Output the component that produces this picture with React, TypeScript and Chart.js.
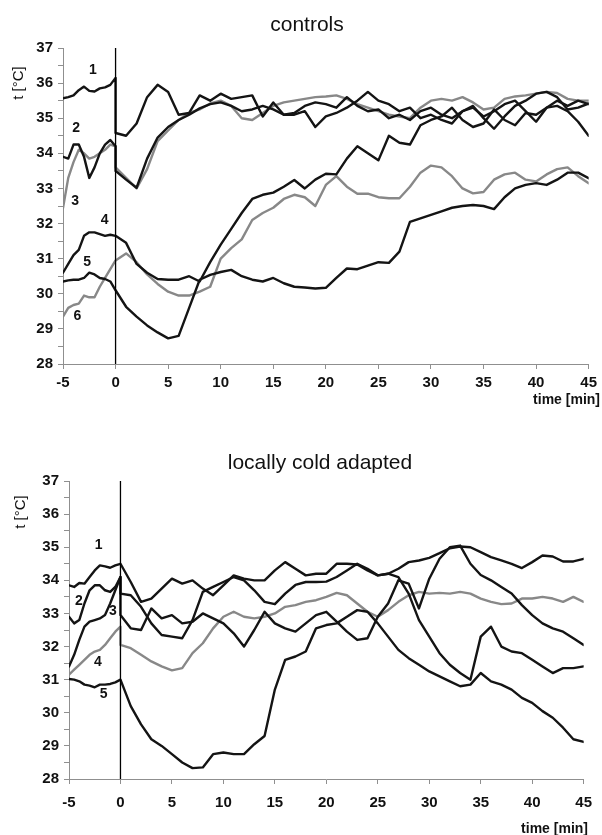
import React, { useEffect, useRef } from 'react';
import { Chart, registerables } from 'chart.js';

Chart.register(...registerables);

// Shared time grid [min]: half-minute steps before the stimulus, a repeated 0
// for the step at stimulus onset, then one-minute steps.
const TIME = [
  -5, -4.5, -4, -3.5, -3, -2.5, -2, -1.5, -1, -0.5, 0,
  0, 1, 2, 3, 4, 5, 6, 7, 8, 9, 10, 11, 12, 13, 14, 15, 16, 17, 18, 19, 20,
  21, 22, 23, 24, 25, 26, 27, 28, 29, 30, 31, 32, 33, 34, 35, 36, 37, 38, 39, 40,
  41, 42, 43, 44, 45,
];

const X_TICKS = [-5, 0, 5, 10, 15, 20, 25, 30, 35, 40, 45];
const Y_TICKS = [28, 29, 30, 31, 32, 33, 34, 35, 36, 37];

// controls, subjects 1-6 [°C]
const ctrl1 = [
  35.57, 35.6, 35.65, 35.8, 35.9, 35.78, 35.76, 35.85, 35.88, 35.95, 36.15,
  34.58, 34.5, 34.85, 35.6, 35.95, 35.75, 35.1, 35.15, 35.65, 35.5, 35.7, 35.55, 35.6, 35.65, 35.05, 35.45,
  35.1, 35.1, 35.2, 34.75, 35.05, 35.15, 35.3, 35.5, 35.75, 35.5, 35.4, 35.2, 35.3, 35.0, 35.1,
  34.95, 34.85, 35.2, 35.35, 35.0, 34.7, 35.05, 35.35, 35.5, 35.7, 35.75, 35.6, 35.25, 35.3, 35.42,
];
const ctrl2 = [
  33.9, 33.85, 34.25, 34.25, 33.9, 33.3, 33.6, 34.0, 34.25, 34.38, 34.2,
  33.5, 33.25, 33.02, 33.85, 34.45, 34.75, 34.95, 35.1, 35.28, 35.4, 35.45, 35.35, 35.2, 35.25, 35.35, 35.25,
  35.1, 35.15, 35.35, 35.45, 35.4, 35.3, 35.6, 35.35, 35.2, 35.25, 35.0, 35.1, 34.95, 35.2, 35.3,
  35.1, 35.0, 35.2, 35.3, 35.05, 35.2, 35.4, 35.5, 35.2, 34.9, 35.3, 35.35, 35.2, 34.9, 34.5,
];
const ctrl3 = [
  32.44, 33.3, 33.75, 34.1, 34.0, 33.85, 33.9, 34.0, 34.1, 34.25, 34.2,
  33.6, 33.3, 33.0, 33.55, 34.35, 34.65, 34.95, 35.15, 35.25, 35.42, 35.5, 35.35, 35.0, 34.95, 35.15, 35.35,
  35.45, 35.5, 35.55, 35.6, 35.62, 35.65, 35.55, 35.4, 35.3, 35.2, 35.1, 35.05, 35.0, 35.3, 35.5,
  35.55, 35.5, 35.6, 35.45, 35.25, 35.3, 35.55, 35.62, 35.65, 35.7, 35.75, 35.72, 35.55, 35.5, 35.5,
];
const ctrl4 = [
  30.6, 30.85, 31.1, 31.25, 31.65, 31.75, 31.75, 31.7, 31.65, 31.68, 31.65,
  31.65, 31.45, 30.85, 30.6, 30.42, 30.4, 30.4, 30.5, 30.35, 30.9, 31.4, 31.85, 32.3, 32.7, 32.82, 32.88,
  33.05, 33.24, 33.0, 33.25, 33.42, 33.4, 33.85, 34.2, 34.0, 33.8, 34.5, 34.3, 34.25, 34.8, 34.95,
  35.05, 35.3, 34.95, 34.75, 34.85, 35.25, 34.95, 34.8, 35.15, 35.1, 35.3, 35.5, 35.35, 35.5, 35.4,
];
const ctrl5 = [
  30.35, 30.38, 30.4, 30.4, 30.45, 30.6, 30.55, 30.45, 30.42, 30.35, 30.1,
  30.1, 29.63, 29.35, 29.1, 28.9, 28.73, 28.8, 29.6, 30.4, 30.54, 30.62, 30.68, 30.5, 30.4, 30.35, 30.45,
  30.3, 30.2, 30.18, 30.15, 30.17, 30.45, 30.72, 30.7, 30.8, 30.9, 30.88, 31.2, 32.05, 32.15, 32.25,
  32.35, 32.45, 32.5, 32.53, 32.5, 32.41, 32.75, 33.0, 33.1, 33.15, 33.1, 33.25, 33.45, 33.45, 33.29,
];
const ctrl6 = [
  29.35, 29.6, 29.68, 29.72, 29.95, 29.9, 29.9, 30.2, 30.45, 30.7, 30.95,
  30.95, 31.15, 30.9, 30.55, 30.28, 30.06, 29.95, 29.95, 30.06, 30.2, 31.0, 31.3, 31.55, 32.1, 32.3, 32.45,
  32.7, 32.82, 32.75, 32.5, 33.1, 33.35, 33.05, 32.85, 32.85, 32.75, 32.72, 32.72, 33.05, 33.45, 33.65,
  33.6, 33.35, 33.0, 32.86, 32.9, 33.25, 33.4, 33.45, 33.25, 33.2, 33.4, 33.55, 33.6, 33.35, 33.15,
];

// locally cold adapted, subjects 1-5 [°C]
const adap1 = [
  33.85, 33.8, 33.92, 33.9, 34.1, 34.3, 34.45, 34.42, 34.38, 34.45, 34.5,
  34.5, 33.95, 33.35, 33.45, 33.75, 34.05, 33.9, 34.0, 33.75, 33.55, 33.85, 34.15, 34.05, 34.0, 34.0, 34.3,
  34.55, 34.35, 34.15, 34.2, 34.2, 34.5, 34.5, 34.48, 34.3, 34.15, 34.2, 34.35, 34.55, 34.6, 34.68,
  34.82, 34.97, 35.02, 35.0, 34.85, 34.7, 34.6, 34.5, 34.37, 34.55, 34.75, 34.72, 34.57, 34.57, 34.65,
];
const adap2 = [
  32.9, 32.7, 32.8, 33.3, 33.7, 33.85, 33.85, 33.7, 33.65, 33.8, 34.1,
  33.6, 33.55, 33.2, 32.7, 32.35, 32.3, 32.25, 32.8, 33.65, 33.8, 33.95, 34.1, 34.0, 33.7, 33.35, 33.28,
  33.6, 33.86, 33.95, 33.95, 33.96, 34.1, 34.3, 34.5, 34.35, 34.15, 34.2, 34.1, 33.6, 32.8, 32.3,
  31.8, 31.45, 31.2, 31.0, 32.3, 32.6, 32.0, 31.85, 31.8, 31.6, 31.4, 31.2, 31.35, 31.35, 31.4,
];
const adap3 = [
  31.4, 31.75, 32.2, 32.6, 32.75, 32.8, 32.85, 32.95, 33.3, 33.7, 34.1,
  32.95, 32.55, 32.5, 33.15, 32.85, 32.95, 32.7, 32.75, 33.0, 32.85, 32.7, 32.4, 32.0, 32.5, 33.05, 32.7,
  32.55, 32.45, 32.7, 32.95, 33.05, 32.75, 32.45, 32.2, 32.25, 32.9, 33.3, 34.0, 33.9, 33.15, 34.05,
  34.65, 35.0, 35.05, 34.5, 34.16, 34.0, 33.8, 33.6, 33.25, 32.95, 32.7, 32.55, 32.45, 32.25, 32.05,
];
const adap4 = [
  31.15, 31.3, 31.45, 31.6, 31.75, 31.85, 31.9, 32.05, 32.25, 32.45, 32.6,
  32.05, 31.95, 31.75, 31.55, 31.4, 31.28, 31.35, 31.8, 32.1, 32.55, 32.9, 33.05, 32.9, 32.85, 32.9, 33.0,
  33.2, 33.25, 33.35, 33.4, 33.5, 33.62, 33.55, 33.3, 33.05, 32.9, 33.1, 33.35, 33.55, 33.65, 33.6,
  33.62, 33.6, 33.65, 33.6, 33.45, 33.35, 33.28, 33.3, 33.45, 33.45, 33.5, 33.45, 33.35, 33.5, 33.35,
];
const adap5 = [
  31.02, 31.0, 30.95, 30.85, 30.82, 30.77, 30.85, 30.85, 30.87, 30.92, 31.0,
  31.0, 30.2, 29.65, 29.2, 29.0, 28.75, 28.5, 28.33, 28.35, 28.75, 28.8, 28.75, 28.75, 29.05, 29.3, 30.7,
  31.6, 31.7, 31.85, 32.55, 32.65, 32.7, 32.9, 33.1, 33.05, 32.7, 32.3, 31.9, 31.65, 31.45, 31.25,
  31.1, 30.95, 30.8, 30.85, 31.2, 30.95, 30.85, 30.7, 30.45, 30.3, 30.05, 29.85, 29.55, 29.2, 29.12,
];

// subject numbers placed next to the curves (time, temperature)
const ctrlLabelNames = ['1', '2', '3', '4', '5', '6'];
const ctrlLabelT = [-2.16, -3.76, -3.85, -1.03, -2.7, -3.64];
const ctrlLabelV = [36.38, 34.72, 32.65, 32.1, 30.91, 29.35];

const adapLabelNames = ['1', '2', '3', '4', '5'];
const adapLabelT = [-2.12, -4.05, -0.74, -2.19, -1.64];
const adapLabelV = [35.05, 33.36, 33.08, 31.54, 30.56];

const BLACK = '#141414';
const GREY = '#888888';
const AXIS = '#8f8f8f';
const FONT = '"Liberation Sans", Arial, Helvetica, sans-serif';

type PanelSpec = {
  title: string;
  titleX: number;
  titleY: number;
  height: number;
  left: number;
  right: number;
  top: number;
  bottom: number;
  xTickPad: number;
  timeX: number;
  timeY: number;
  yTitleX: number;
  yTitleY: number;
  series: number[][];
  colors: string[];
  labelNames: string[];
  labelT: number[];
  labelV: number[];
};

const controlsSpec: PanelSpec = {
  title: 'controls',
  titleX: 307,
  titleY: 31,
  height: 415,
  left: 63,
  right: 595,
  top: 48,
  bottom: 364,
  xTickPad: 5,
  timeX: 600,
  timeY: 400,
  yTitleX: 19,
  yTitleY: 83,
  series: [ctrl1, ctrl2, ctrl3, ctrl4, ctrl5, ctrl6],
  colors: [BLACK, BLACK, GREY, BLACK, BLACK, GREY],
  labelNames: ctrlLabelNames,
  labelT: ctrlLabelT,
  labelV: ctrlLabelV,
};

const adaptedSpec: PanelSpec = {
  title: 'locally cold adapted',
  titleX: 320,
  titleY: 54,
  height: 420,
  left: 69,
  right: 588,
  top: 66,
  bottom: 364,
  xTickPad: 10,
  timeX: 588,
  timeY: 414,
  yTitleX: 21,
  yTitleY: 97,
  series: [adap1, adap2, adap3, adap4, adap5],
  colors: [BLACK, BLACK, BLACK, GREY, BLACK],
  labelNames: adapLabelNames,
  labelT: adapLabelT,
  labelV: adapLabelV,
};

function buildChart(canvas: HTMLCanvasElement, spec: PanelSpec) {
  const datasets: any[] = spec.series.map((vals, i) => ({
    data: TIME.map((t, k) => ({ x: t, y: vals[k] })),
    borderColor: spec.colors[i],
    borderWidth: 2.4,
    borderJoinStyle: 'round',
    borderCapStyle: 'round',
    pointRadius: 0,
    tension: 0,
    order: spec.colors[i] === GREY ? 2 : 1,
  }));
  // stimulus onset marker at t = 0
  datasets.push({
    data: [
      { x: 0, y: Y_TICKS[0] },
      { x: 0, y: Y_TICKS[Y_TICKS.length - 1] },
    ],
    borderColor: '#000',
    borderWidth: 1.3,
    pointRadius: 0,
    order: 0,
  });

  const textPlugin = {
    id: 'panelText',
    afterDraw(chart: any) {
      const ctx = chart.ctx as CanvasRenderingContext2D;
      const xs = chart.scales.x;
      const ys = chart.scales.y;
      ctx.save();
      ctx.fillStyle = '#111';

      ctx.font = `21px ${FONT}`;
      ctx.textAlign = 'center';
      ctx.textBaseline = 'alphabetic';
      ctx.fillText(spec.title, spec.titleX, spec.titleY);

      ctx.font = `bold 14px ${FONT}`;
      ctx.textAlign = 'right';
      ctx.textBaseline = 'middle';
      ctx.fillText('time [min]', spec.timeX, spec.timeY);

      ctx.save();
      ctx.translate(spec.yTitleX, spec.yTitleY);
      ctx.rotate(-Math.PI / 2);
      ctx.font = `15px ${FONT}`;
      ctx.textAlign = 'center';
      ctx.textBaseline = 'middle';
      ctx.fillText('t [°C]', 0, 0);
      ctx.restore();

      ctx.font = `bold 14px ${FONT}`;
      ctx.textAlign = 'center';
      ctx.textBaseline = 'middle';
      spec.labelNames.forEach((name, i) => {
        ctx.fillText(name, xs.getPixelForValue(spec.labelT[i]), ys.getPixelForValue(spec.labelV[i]));
      });
      ctx.restore();
    },
  };

  return new Chart(canvas, {
    type: 'line',
    data: { datasets },
    options: {
      animation: false,
      responsive: false,
      maintainAspectRatio: false,
      events: [],
      layout: {
        padding: { top: spec.top, right: 602 - spec.right, left: 0, bottom: 0 },
      },
      plugins: {
        legend: { display: false },
        tooltip: { enabled: false },
        title: { display: false },
      },
      scales: {
        x: {
          type: 'linear',
          min: X_TICKS[0],
          max: X_TICKS[X_TICKS.length - 1],
          border: { display: true, color: AXIS, width: 1 },
          grid: { drawOnChartArea: false, drawTicks: true, tickLength: 5, color: AXIS },
          afterBuildTicks: (scale: any) => {
            scale.ticks = X_TICKS.map((v) => ({ value: v }));
          },
          ticks: {
            autoSkip: false,
            maxRotation: 0,
            padding: spec.xTickPad,
            color: '#111',
            font: { family: FONT, size: 15, weight: 'bold' },
          },
          afterFit: (scale: any) => {
            scale.height = spec.height - spec.bottom;
          },
        },
        y: {
          type: 'linear',
          min: Y_TICKS[0],
          max: Y_TICKS[Y_TICKS.length - 1],
          border: { display: true, color: AXIS, width: 1 },
          grid: { drawOnChartArea: false, drawTicks: true, tickLength: 5, color: AXIS },
          ticks: {
            stepSize: 0.5,
            autoSkip: false,
            padding: 5,
            color: '#111',
            font: { family: FONT, size: 15, weight: 'bold' },
            callback: (v: any) => (Y_TICKS.includes(Number(v)) ? String(v) : ''),
          },
          afterFit: (scale: any) => {
            scale.width = spec.left;
          },
        },
      },
    } as any,
    plugins: [textPlugin],
  });
}

function Panel({ spec }: { spec: PanelSpec }) {
  const ref = useRef<HTMLCanvasElement>(null);
  useEffect(() => {
    const chart = buildChart(ref.current as HTMLCanvasElement, spec);
    return () => chart.destroy();
  }, [spec]);
  return (
    <canvas
      ref={ref}
      width={602}
      height={spec.height}
      style={{ display: 'block', width: 602, height: spec.height }}
    />
  );
}

export default function App() {
  return (
    <div style={{ position: 'absolute', left: 0, top: 0, width: 602, height: 835, background: '#fff' }}>
      <Panel spec={controlsSpec} />
      <Panel spec={adaptedSpec} />
    </div>
  );
}
